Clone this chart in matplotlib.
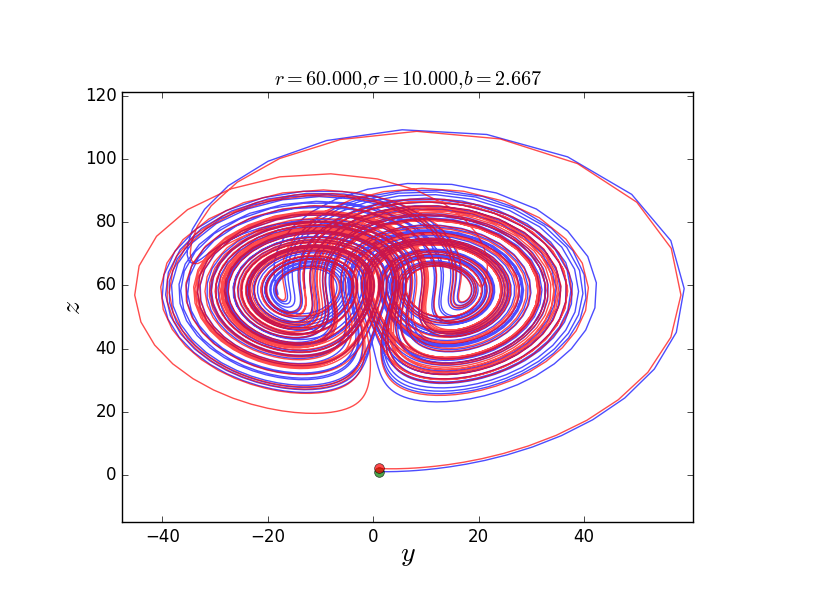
import numpy as np
import matplotlib
matplotlib.use('Agg')
import matplotlib.pyplot as plt

# NOTE: the two curves are thousands of points of a chaotic Lorenz trajectory,
# which cannot be read off the picture point by point. So, unlike the other
# values here, they are computed by integrating the Lorenz equations with the
# parameters in the title. Start points, run length and step are estimates, and
# the inner loops will not match the reference exactly.
r = 60.0
sigma = 10.0
b = 8.0 / 3.0
start_blue = [1.0, 1.0, 1.0]
start_red = [1.0, 1.0, 2.0]
t_end = 40.0
n_samples = 4000


def lorenz(s):
    x, y, z = s
    return np.array([sigma * (y - x), x * (r - z) - y, x * y - b * z])


def integrate(s0):
    # RK4 with small substeps, sampled on a coarse grid
    s = np.array(s0, dtype=float)
    dt = t_end / n_samples
    sub = 10
    h = dt / sub
    out = [s.copy()]
    for i in range(n_samples):
        for j in range(sub):
            k1 = lorenz(s)
            k2 = lorenz(s + 0.5 * h * k1)
            k3 = lorenz(s + 0.5 * h * k2)
            k4 = lorenz(s + h * k3)
            s = s + h / 6.0 * (k1 + 2 * k2 + 2 * k3 + k4)
        out.append(s.copy())
    return np.array(out)


blue = integrate(start_blue)
red = integrate(start_red)

plt.style.use('classic')
fig = plt.figure(figsize=(8.15, 6.15), dpi=100, facecolor='white')
ax = fig.add_axes([0.15, 0.151, 0.70, 0.699])
ax.plot(blue[:, 1], blue[:, 2], 'b-', alpha=0.7, lw=1.0)
ax.plot(red[:, 1], red[:, 2], 'r-', alpha=0.7, lw=1.0)
ax.plot(blue[0, 1], blue[0, 2], 'go', alpha=0.7, ms=7)
ax.plot(red[0, 1], red[0, 2], 'ro', alpha=0.7, ms=7)
ax.set_xlim(-47.6, 60.6)
ax.set_ylim(-15, 121.2)
ax.set_xticks([-40, -20, 0, 20, 40])
ax.set_yticks([0, 20, 40, 60, 80, 100, 120])
ax.set_xlabel('$y$', fontsize=20, labelpad=-4)
ax.set_ylabel('$z$', fontsize=20, labelpad=-1)
ax.set_title(r'$r=%.3f{,}\sigma=%.3f{,}b=%.3f$' % (r, sigma, b), fontsize=14.5)
fig.savefig('out.png', dpi=100, facecolor='white')
